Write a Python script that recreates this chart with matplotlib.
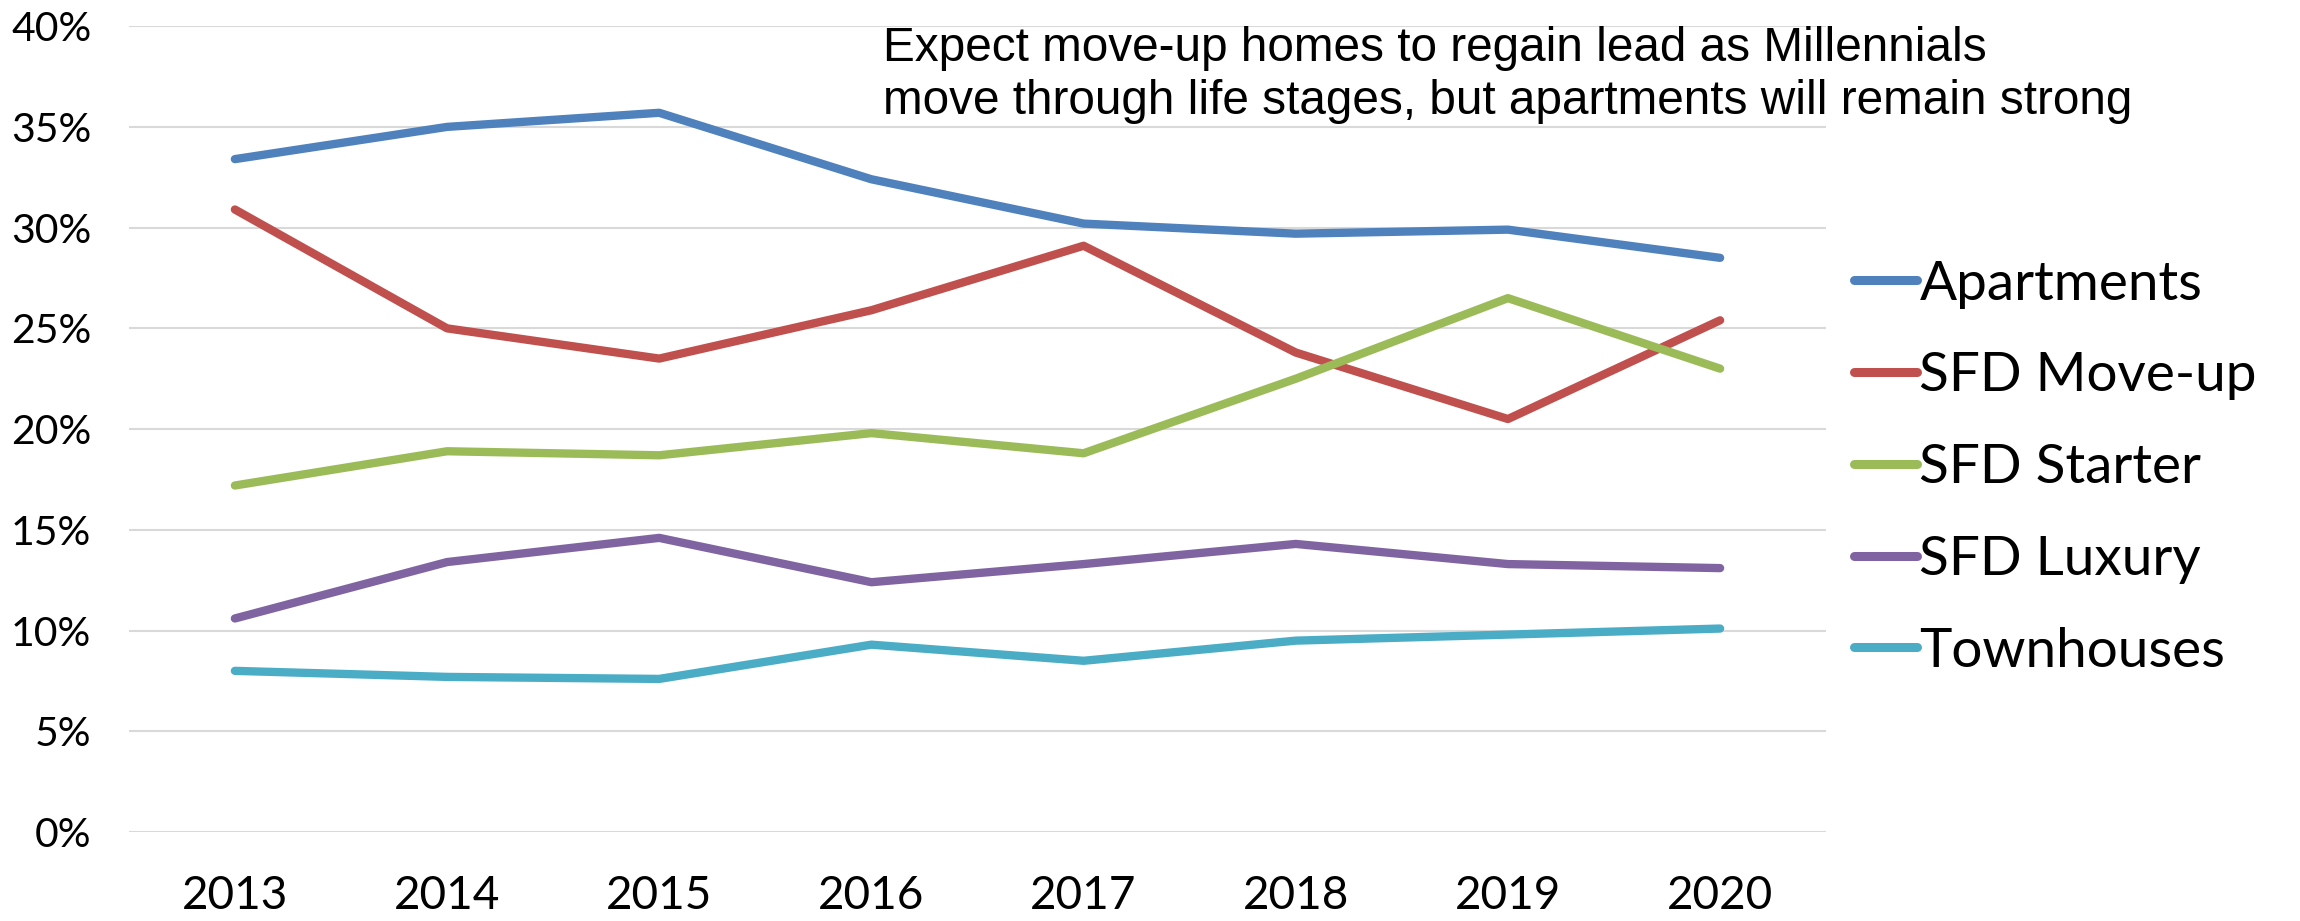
import matplotlib
matplotlib.use("Agg")
from matplotlib import pyplot as plt
from matplotlib.ticker import PercentFormatter

years = ["2013", "2014", "2015", "2016", "2017", "2018", "2019", "2020"]
apartments = [33.4, 35.0, 35.7, 32.4, 30.2, 29.7, 29.9, 28.5]
move_up    = [30.9, 25.0, 23.5, 25.9, 29.1, 23.8, 20.5, 25.4]
starter    = [17.2, 18.9, 18.7, 19.8, 18.8, 22.5, 26.5, 23.0]
luxury     = [10.6, 13.4, 14.6, 12.4, 13.3, 14.3, 13.3, 13.1]
townhouses = [8.0, 7.7, 7.6, 9.3, 8.5, 9.5, 9.8, 10.1]

names  = ["Apartments", "SFD Move-up", "SFD Starter", "SFD Luxury", "Townhouses"]
series = [apartments, move_up, starter, luxury, townhouses]
colors = ["#4F81BD", "#C0504D", "#9BBB59", "#8064A2", "#4BACC6"]

note = ("Expect move-up homes to regain lead as Millennials\n"
        "move through life stages, but apartments will remain strong")

plt.rcParams['font.family'] = ['Lato', 'DejaVu Sans']

fig = plt.figure(figsize=(23, 9.21), dpi=100)
ax = fig.add_axes([0.056, 0.0966, 0.738, 0.875])

x = range(len(years))
for name, vals, c in zip(names, series, colors):
	ax.plot(x, vals, color=c, lw=6, label=name, solid_capstyle='round', solid_joinstyle='round')

ax.set_xlim(-0.5, len(years) - 0.5)
ax.set_ylim(0, 40)
ax.set_yticks(range(0, 41, 5))
ax.yaxis.set_major_formatter(PercentFormatter(decimals=0))
ax.set_xticks(list(x))
ax.set_xticklabels(years)
ax.grid(axis='y', color='#d9d9d9', lw=1.5)
ax.set_axisbelow(True)
for s in ax.spines.values():
	s.set_visible(False)
ax.tick_params(length=0)
ax.tick_params(axis='y', labelsize=29.5, pad=27)
ax.tick_params(axis='x', labelsize=33, pad=31)

leg = fig.legend(loc='upper left', bbox_to_anchor=(0.794, 0.748), frameon=False, borderpad=0,
	fontsize=39.5, handlelength=1.15, handletextpad=0.05, labelspacing=0.78)
for h in leg.get_lines():
	h.set_linewidth(6.5)
	h.set_solid_capstyle('round')

fig.text(0.384, 0.919, note, va='center', ha='left', fontsize=34.4, linespacing=1.23,
	family=['Liberation Sans', 'DejaVu Sans'])

fig.savefig("out.png", dpi=100)
